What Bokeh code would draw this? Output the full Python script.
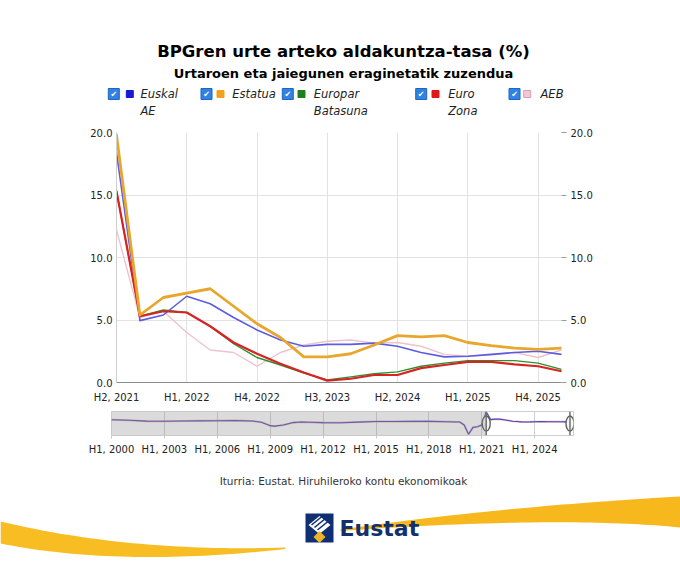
import numpy as np
from bokeh.plotting import figure
from bokeh.layouts import column
from bokeh.models import (Range1d, LinearAxis, FixedTicker, BoxAnnotation, Span,
                          NumeralTickFormatter)
from bokeh.core.properties import value
from bokeh.embed import file_html
from bokeh.resources import INLINE

# ---------------- data ----------------
series_names = ["Euskal AE", "Estatua", "Europar Batasuna", "Euro Zona", "AEB"]
# quarter index counted from 2000 Q1 (=0); 85 = 2021 Q2
quarters = list(range(85, 105))
euskal_ae = [18.4, 4.95, 5.4, 6.9, 6.3, 5.2, 4.2, 3.4, 2.9, 3.05, 3.05, 3.15, 2.9, 2.4, 2.05, 2.1, 2.25, 2.4, 2.5, 2.25]
estatua = [19.8, 5.4, 6.8, 7.15, 7.5, 6.1, 4.7, 3.6, 2.05, 2.05, 2.3, 3.0, 3.75, 3.65, 3.75, 3.2, 2.95, 2.75, 2.65, 2.75]
europar_batasuna = [15.3, 5.3, 5.8, 5.6, 4.5, 3.1, 2.0, 1.4, 0.75, 0.2, 0.45, 0.7, 0.85, 1.3, 1.55, 1.75, 1.75, 1.75, 1.55, 1.05]
euro_zona = [15.3, 5.3, 5.7, 5.6, 4.5, 3.2, 2.3, 1.5, 0.8, 0.15, 0.3, 0.6, 0.6, 1.15, 1.4, 1.65, 1.65, 1.45, 1.3, 0.9]
aeb = [12.2, 5.2, 5.7, 4.0, 2.6, 2.4, 1.3, 2.4, 3.0, 3.3, 3.4, 3.15, 3.2, 2.9, 2.25, 2.1, 2.2, 2.4, 2.0, 2.6]

main_tick_pos = [85, 88, 91, 94, 97, 100, 103]
main_tick_labels = ["H2, 2021", "H1, 2022", "H4, 2022", "H3, 2023", "H2, 2024", "H1, 2025", "H4, 2025"]
y_ticks = [0, 5, 10, 15, 20]

nav_tick_pos = [0, 12, 24, 36, 48, 60, 72, 84, 96]
nav_tick_labels = ["H1, 2000", "H1, 2003", "H1, 2006", "H1, 2009", "H1, 2012",
                   "H1, 2015", "H1, 2018", "H1, 2021", "H1, 2024"]
# overview (range selector) history, read from the small navigator strip
nav_hist_q = [0, 4, 8, 12, 16, 20, 24, 28, 32, 34, 36, 37, 39, 41, 43, 45, 48, 52, 56,
              60, 64, 68, 72, 76, 79, 80, 81, 82, 83, 84]
nav_hist_v = [5.0, 4.2, 3.0, 2.8, 3.2, 3.4, 3.6, 3.8, 3.2, 1.5, -3.5, -4.2, -2.5, 0.8, 1.8, 1.5,
              0.8, 0.6, 1.6, 2.4, 2.5, 2.6, 2.7, 2.2, 1.8, -2.5, -16.0, -6.0, -5.0, -2.5]

source_text = "Iturria: Eustat. Hiruhileroko kontu ekonomikoak"
title_text = "BPGren urte arteko aldakuntza-tasa (%)"
subtitle_text = "Urtaroen eta jaiegunen eraginetatik zuzendua"

# ---------------- styles ----------------
line_colors = ["#5c5ce0", "#e9a62c", "#2f8f2f", "#d92323", "#efc3cc"]
legend_colors = ["#1a1ad4", "#f0a21c", "#1f7f1f", "#e01818", "#f3c6d3"]
line_widths = [1.6, 2.8, 1.4, 2.2, 1.4]
draw_order = [4, 2, 0, 3, 1]
FONT = value("DejaVu Sans")
W = 680


def blank(h, yr):
    f = figure(width=W, height=h, x_range=Range1d(0, W), y_range=Range1d(*yr),
               x_axis_location=None, y_axis_location=None, output_backend="svg",
               toolbar_location=None, min_border=0, frame_align=False)
    f.grid.visible = False
    f.outline_line_color = None
    return f


# ---------------- header (window coordinates) ----------------
hdr = blank(120, (120, 0))
hdr.text(x=[343], y=[51], text=[title_text], text_font=FONT, text_font_size="16.5px",
         text_font_style="bold", text_align="center", text_baseline="middle", text_color="#000000")
hdr.text(x=[343], y=[73], text=[subtitle_text], text_font=FONT, text_font_size="13px",
         text_font_style="bold", text_align="center", text_baseline="middle", text_color="#000000")

cb_x = [113.3, 206, 287.3, 420.7, 514]
sq_x = [129.3, 220, 301, 435, 526.7]
tx_x = [140, 231.7, 313.3, 447.7, 540]
row1, row2 = 93.5, 110
hdr.scatter(x=cb_x, y=[row1] * 5, marker="square", size=11, fill_color="#3182e2",
            line_color="#1f66c0")
hdr.text(x=cb_x, y=[row1 + 0.5] * 5, text=["\u2714"] * 5, text_font=FONT, text_font_size="8px",
         text_align="center", text_baseline="middle", text_color="#ffffff")
hdr.scatter(x=sq_x, y=[row1] * 5, marker="square", size=7, fill_color=legend_colors,
            line_color=[c if i < 4 else "#d8a0b0" for i, c in enumerate(legend_colors)])
for i, name in enumerate(series_names):
    parts = name.split(" ")
    lines = parts if len(parts) > 1 else [name]
    for k, ln in enumerate(lines):
        hdr.text(x=[tx_x[i]], y=[row1 if k == 0 else row2], text=[ln], text_font=FONT,
                 text_font_size="11.5px", text_font_style="italic", text_align="left",
                 text_baseline="middle", text_color="#222222")

# ---------------- main chart ----------------
p = figure(width=W, height=285, x_range=Range1d(quarters[0], quarters[-1]),
           y_range=Range1d(0, 20), output_backend="svg", toolbar_location=None,
           min_border_left=116, min_border_right=119, min_border_top=12, min_border_bottom=22,
           frame_align=False)
p.outline_line_color = None
all_series = [euskal_ae, estatua, europar_batasuna, euro_zona, aeb]
for i in draw_order:
    p.line(quarters, all_series[i], line_color=line_colors[i], line_width=line_widths[i],
           line_join="round", line_cap="round")

p.xaxis.ticker = FixedTicker(ticks=main_tick_pos)
p.xaxis.major_label_overrides = {t: l for t, l in zip(main_tick_pos, main_tick_labels)}
p.xgrid.ticker = FixedTicker(ticks=main_tick_pos)
p.yaxis.ticker = FixedTicker(ticks=y_ticks)
p.yaxis.formatter = NumeralTickFormatter(format="0.0")
p.grid.grid_line_color = "#e2e2e2"
for ax in p.xaxis + p.yaxis:
    ax.major_label_text_font = "DejaVu Sans"
    ax.major_label_text_font_size = "10px"
    ax.major_label_text_color = "#222222"
    ax.minor_tick_line_color = None
    ax.major_tick_in = 0
p.xaxis.major_tick_out = 0
p.xaxis.major_label_standoff = 9
p.xaxis.axis_line_color = "#8c8c8c"
p.yaxis.major_tick_out = 0
p.yaxis.major_label_standoff = 4
p.yaxis.axis_line_color = "#cfcfcf"
ry = LinearAxis(ticker=FixedTicker(ticks=y_ticks), formatter=NumeralTickFormatter(format="0.0"),
                major_label_text_font="DejaVu Sans", major_label_text_font_size="10px",
                major_label_text_color="#222222", axis_line_color=None, major_tick_in=0,
                major_tick_out=5, major_tick_line_color="#9a9a9a", minor_tick_line_color=None,
                major_label_standoff=4)
p.add_layout(ry, "right")

# ---------------- navigator ----------------
nav = figure(width=W, height=52, x_range=Range1d(0, 104.8), y_range=Range1d(-17.7, 16.9),
             y_axis_location=None, output_backend="svg", toolbar_location=None,
             min_border_left=111, min_border_right=107, min_border_top=6, min_border_bottom=20,
             frame_align=False)
nav.outline_line_color = "#cfcfcf"
avg_main = [float(np.mean(v)) for v in zip(*all_series)]
nav_q = nav_hist_q + quarters
nav_v = nav_hist_v + avg_main
nav.line(nav_q, nav_v, line_color="#d06060", line_width=2.0, line_alpha=0.45)
nav.line(nav_q, nav_v, line_color="#5048c0", line_width=1.1)
nav.add_layout(BoxAnnotation(right=quarters[0], fill_color="#8f8f8f", fill_alpha=0.32,
                             line_color=None))
nav.xaxis.ticker = FixedTicker(ticks=nav_tick_pos)
nav.xaxis.major_label_overrides = {t: l for t, l in zip(nav_tick_pos, nav_tick_labels)}
nav.xgrid.ticker = FixedTicker(ticks=nav_tick_pos)
nav.xgrid.grid_line_color = "#d0d0d0"
nav.ygrid.visible = False
nav.xaxis.axis_line_color = None
nav.xaxis.major_tick_in = 0
nav.xaxis.major_tick_out = 3
nav.xaxis.major_tick_line_color = "#c8c8c8"
nav.xaxis.minor_tick_line_color = None
nav.xaxis.major_label_standoff = 5
nav.xaxis.major_label_text_font = "DejaVu Sans"
nav.xaxis.major_label_text_font_size = "10px"
nav.xaxis.major_label_text_color = "#222222"
for loc in (quarters[0], quarters[-1]):
    nav.add_layout(Span(location=loc, dimension="height", line_color="#707070", line_width=1.5))
nav.ellipse(x=[quarters[0], quarters[-1]], y=[-0.4, -0.4], width=8, height=15,
            width_units="screen", height_units="screen", fill_color="#f6f6f6",
            line_color="#555555", line_width=1.3)

# ---------------- footer ----------------
FY = 457
ftr = blank(110, (110, 0))
ftr.text(x=[343], y=[480 - FY], text=[source_text], text_font=FONT, text_font_size="10.5px",
         text_align="center", text_baseline="middle", text_color="#333333")


def quad(p0, c, p1, n=40):
    t = np.linspace(0, 1, n)[:, None]
    return (1 - t) ** 2 * np.array(p0) + 2 * t * (1 - t) * np.array(c) + t ** 2 * np.array(p1)


def swoosh(up, lo, color):
    pts = np.vstack([quad(*up), quad(*lo)])
    ftr.patch(pts[:, 0], pts[:, 1] - FY, fill_color=color, line_color=None)


swoosh(((0, 521), (130, 552), (285, 547)), ((285, 548.5), (120, 567), (0, 543)), "#f7bd22")
swoosh(((340, 529), (500, 506), (680, 496)), ((680, 527), (560, 515), (340, 530.5)), "#f6b81c")

# logo
LX, LY = 319, 527.5 - FY
ftr.rect(x=[LX], y=[LY], width=28, height=29, fill_color="#0f2f72", line_color=None)
ftr.patch([LX - 11, LX, LX + 11, LX], [LY - 3, LY - 12, LY - 3, LY + 6],
          fill_color="#ffffff", line_color=None)
ftr.multi_line([[LX - 8, LX + 3], [LX - 5, LX + 6], [LX - 2, LX + 9]],
               [[LY - 3, LY - 12], [LY - 0.5, LY - 9.5], [LY + 2, LY - 7]],
               line_color="#0f2f72", line_width=1.6)
ftr.patch([LX - 6, LX, LX + 6, LX], [LY + 9, LY + 3, LY + 9, LY + 15],
          fill_color="#f0b323", line_color=None)
ftr.text(x=[339], y=[LY], text=["Eustat"], text_font=FONT, text_font_size="22px",
         text_font_style="bold", text_align="left", text_baseline="middle", text_color="#13306e")

layout = column(hdr, p, nav, ftr)
open("out.html", "w").write(file_html(layout, INLINE))
